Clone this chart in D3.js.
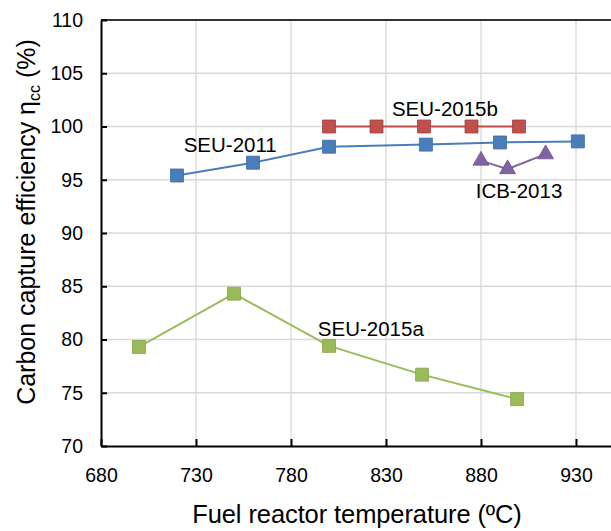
<!DOCTYPE html>
<meta charset="utf-8">
<style>
body { margin: 0; background: #fff; }
svg { font-family: Arial, "Liberation Sans", sans-serif; }
.grid line { stroke: #d9d9d9; stroke-width: 1.3px; }
.axis path, .axis line { stroke: #000; stroke-width: 2px; }
.axis text { font-size: 19.5px; fill: #000; }
.series path.line { fill: none; stroke-width: 2px; }
.lbl { font-size: 20.5px; fill: #000; }
</style>
<svg width="611" height="531"></svg>
<script src="https://cdn.jsdelivr.net/npm/d3@7"></script>
<script>

// tick values
var xTicks = [680, 730, 780, 830, 880, 930],
    yTicks = [70, 75, 80, 85, 90, 95, 100, 105, 110];

// series
var seu2011T = [720, 760, 800, 851, 890, 931],
    seu2011E = [95.4, 96.6, 98.1, 98.3, 98.5, 98.6];
var seu2015bT = [800, 825, 850, 875, 900],
    seu2015bE = [100, 100, 100, 100, 100];
var icb2013T = [880, 894, 914],
    icb2013E = [96.8, 96.0, 97.4];
var seu2015aT = [700, 750, 800, 849, 899],
    seu2015aE = [79.3, 84.3, 79.4, 76.7, 74.4];

// label anchors (data units)
var labelNames = ["SEU-2011", "SEU-2015b", "ICB-2013", "SEU-2015a"],
    labelT = [748, 861, 900, 822],
    labelE = [98.3, 101.7, 94.0, 81.0];

var svg = d3.select("svg"),
    margin = {top: 20, left: 101},
    width = 570,
    height = 426;

var x = d3.scaleLinear().domain([680, 980]).range([margin.left, margin.left + width]);
var y = d3.scaleLinear().domain([70, 110]).range([margin.top + height, margin.top]);

var grid = svg.append("g").attr("class", "grid");
grid.selectAll("line.v")
  .data(xTicks.slice(1).concat([980]))
  .enter().append("line")
    .attr("x1", d => x(d)).attr("x2", d => x(d))
    .attr("y1", y(70)).attr("y2", y(110));
grid.selectAll("line.h")
  .data(yTicks.slice(1, -1))
  .enter().append("line")
    .attr("x1", x(680)).attr("x2", x(980))
    .attr("y1", d => y(d)).attr("y2", d => y(d));

// top border
svg.append("line")
    .attr("x1", x(680)).attr("x2", x(980))
    .attr("y1", y(110)).attr("y2", y(110))
    .attr("stroke", "#333").attr("stroke-width", 2);

var xAxis = svg.append("g")
    .attr("class", "axis")
    .attr("transform", "translate(0," + y(70) + ")")
    .call(d3.axisBottom(x).tickValues(xTicks).tickSizeInner(-7).tickSizeOuter(0).tickPadding(22));
xAxis.selectAll("text").attr("dy", "0.71em");

var yAxis = svg.append("g")
    .attr("class", "axis")
    .attr("transform", "translate(" + x(680) + ",0)")
    .call(d3.axisLeft(y).tickValues(yTicks).tickSizeInner(-6).tickSizeOuter(0).tickPadding(18));

var line = d3.line().x(d => x(d[0])).y(d => y(d[1]));

var series = [
  {t: seu2011T, e: seu2011E, color: "#4a7ebb", edge: "#3d6aa2", sym: d3.symbolSquare},
  {t: seu2015bT, e: seu2015bE, color: "#c0504d", edge: "#a5413e", sym: d3.symbolSquare},
  {t: icb2013T, e: icb2013E, color: "#8064a2", edge: "#6c548a", sym: d3.symbolTriangle},
  {t: seu2015aT, e: seu2015aE, color: "#9bbb59", edge: "#86a34a", sym: d3.symbolSquare}
];

series.forEach(function(s) {
  var pts = s.t.map((t, i) => [t, s.e[i]]);
  var g = svg.append("g").attr("class", "series");
  g.append("path").attr("class", "line").attr("d", line(pts)).attr("stroke", s.color);
  g.selectAll("path.pt")
    .data(pts)
    .enter().append("path")
      .attr("class", "pt")
      .attr("transform", d => "translate(" + x(d[0]) + "," + y(d[1]) + ")")
      .attr("d", d3.symbol().type(s.sym).size(s.sym === d3.symbolSquare ? 169 : 110))
      .attr("fill", s.color)
      .attr("stroke", s.edge)
      .attr("stroke-width", 0.8);
});

svg.selectAll("text.lbl")
  .data(labelNames)
  .enter().append("text")
    .attr("class", "lbl")
    .attr("x", (d, i) => x(labelT[i]))
    .attr("y", (d, i) => y(labelE[i]))
    .attr("dy", "0.35em")
    .attr("text-anchor", "middle")
    .text(d => d);

// axis titles
svg.append("text")
    .attr("x", 357)
    .attr("y", 523)
    .attr("text-anchor", "middle")
    .style("font-size", "25.5px")
    .style("letter-spacing", "-0.1px")
    .text("Fuel reactor temperature (ºC)");

var yt = svg.append("text")
    .attr("transform", "translate(35,222) rotate(-90)")
    .attr("text-anchor", "middle")
    .style("font-size", "25px");
yt.append("tspan").text("Carbon capture efficiency η");
yt.append("tspan").attr("dy", 5).style("font-size", "16px").text("cc");
yt.append("tspan").attr("dy", -5).text(" (%)");

</script>
